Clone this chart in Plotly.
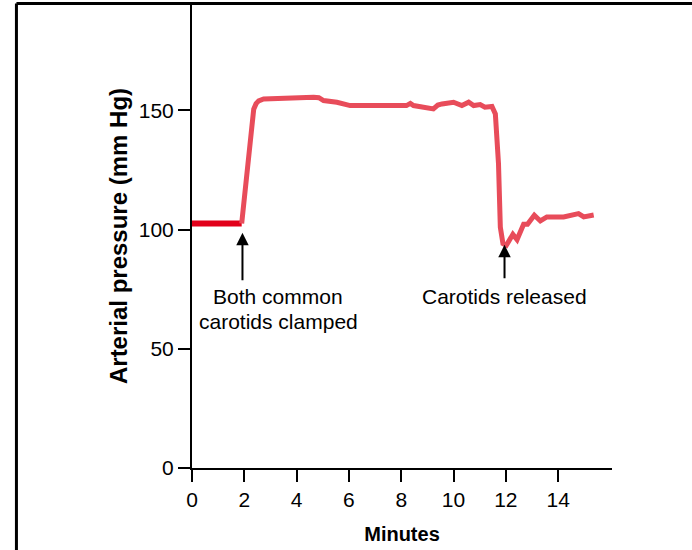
import plotly.graph_objects as go

# baseline before clamping
base_minutes = [0, 1.9]
base_pressure = [102.5, 102.5]

# pressure trace after clamping / release
minutes = [1.9, 2.29, 2.36, 2.45, 2.55, 2.74, 3.5, 4.65, 4.85, 5.03, 5.54, 6.05, 7.2,
           8.2, 8.35, 8.47, 9.23, 9.4, 9.56, 10.0, 10.32, 10.58, 10.77, 11.02, 11.2,
           11.47, 11.6, 11.72, 11.79, 11.89, 12.02, 12.27, 12.43, 12.68, 12.83, 13.09,
           13.32, 13.57, 14.21, 14.78, 14.98, 15.36]
pressure = [102.5, 145.7, 150.5, 152.8, 154.0, 154.8, 155.2, 155.5, 155.3, 154.1, 153.4,
            152.0, 152.0, 152.0, 152.9, 152.0, 150.6, 152.2, 152.7, 153.4, 152.0, 153.4,
            152.0, 152.4, 151.3, 151.6, 148.5, 127.6, 101.0, 94.1, 93.4, 98.0, 95.8,
            102.2, 102.2, 106.0, 103.6, 105.3, 105.3, 106.7, 105.3, 106.1]

x_ticks = [0, 2, 4, 6, 8, 10, 12, 14]
y_ticks = [0, 50, 100, 150]

FONT = "Liberation Sans, Arial, Helvetica, sans-serif"

fig = go.Figure()

fig.add_trace(go.Scatter(x=base_minutes, y=base_pressure, mode="lines",
                         line=dict(color="#e2001a", width=6), showlegend=False))
fig.add_trace(go.Scatter(x=minutes, y=pressure, mode="lines",
                         line=dict(color="#e84c5a", width=5), showlegend=False))

# arrows (no text) + labels
fig.add_annotation(x=1.93, y=98.7, ax=0, ay=49, text="", showarrow=True,
                   arrowhead=2, arrowsize=1.25, arrowwidth=2, arrowcolor="black")
fig.add_annotation(x=11.95, y=93.6, ax=0, ay=35, text="", showarrow=True,
                   arrowhead=2, arrowsize=1.25, arrowwidth=2, arrowcolor="black")
fig.add_annotation(x=3.3, y=71.8, text="Both common", showarrow=False,
                   font=dict(size=21, color="black", family=FONT))
fig.add_annotation(x=3.3, y=61.3, text="carotids clamped", showarrow=False,
                   font=dict(size=21, color="black", family=FONT))
fig.add_annotation(x=11.95, y=71.8, text="Carotids released", showarrow=False,
                   font=dict(size=21, color="black", family=FONT))

# outer frame (top and left edges)
fig.add_shape(type="line", xref="paper", yref="paper", x0=-0.418, x1=1.2, y0=1.001, y1=1.001,
              line=dict(color="black", width=3))
fig.add_shape(type="line", xref="paper", yref="paper", x0=-0.418, x1=-0.418, y0=1.001, y1=-0.2,
              line=dict(color="black", width=3))

fig.update_layout(
    width=692, height=550,
    margin=dict(l=192, r=80, t=4, b=82),
    paper_bgcolor="white", plot_bgcolor="white",
    font=dict(family=FONT, color="black", size=21),
    xaxis=dict(range=[0, 16.06], tickvals=x_ticks, showgrid=False, zeroline=False,
               showline=True, linecolor="black", linewidth=2,
               ticks="outside", ticklen=12, tickwidth=2, tickcolor="black",
               tickfont=dict(size=21),
               title=dict(text="<b>Minutes</b>", font=dict(size=20), standoff=17)),
    yaxis=dict(range=[0, 194.6], tickvals=y_ticks, showgrid=False, zeroline=False,
               showline=True, linecolor="black", linewidth=2,
               ticks="outside", ticklen=12, tickwidth=2, tickcolor="black",
               tickfont=dict(size=21),
               title=dict(text="<b>Arterial pressure (mm Hg)</b>", font=dict(size=24), standoff=4)),
)

fig.write_html("out.html", config={"displayModeBar": False},
               post_script="document.body.style.margin='0';")
